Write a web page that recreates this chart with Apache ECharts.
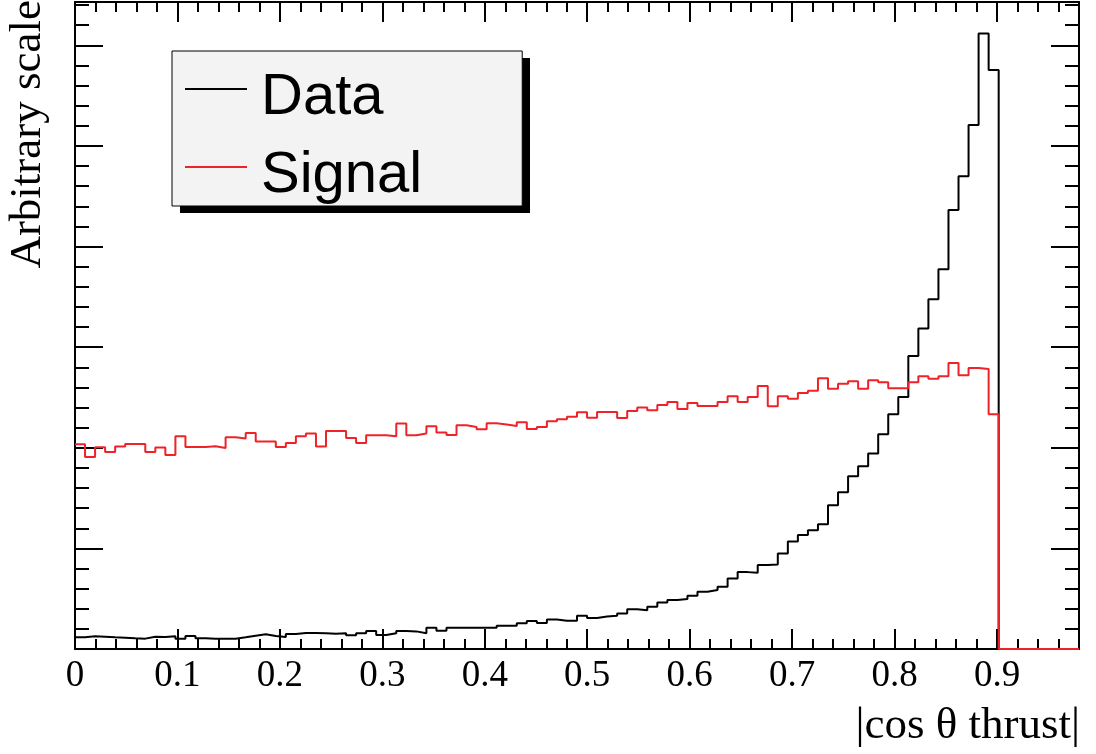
<!DOCTYPE html>
<html>
<head>
<meta charset="utf-8">
<title>cos theta thrust</title>
<script src="https://cdn.jsdelivr.net/npm/echarts@6/dist/echarts.min.js"></script>
<style>
html,body{margin:0;padding:0;background:#fff;}
#main{width:1096px;height:754px;}
</style>
</head>
<body>
<div id="main"></div>
<script>
// histogram: 100 bins of 0.0098 from 0 to 0.98, filled up to bin 91
var binWidth = 0.0098;
var nBins = 100;
var seriesNames = ['Data', 'Signal'];

var dataCounts = [
	0.116, 0.126, 0.122, 0.116, 0.112, 0.106, 0.103, 0.122, 0.119, 0.126,
	0.103, 0.129, 0.106, 0.103, 0.103, 0.103, 0.116, 0.132, 0.146, 0.129,
	0.119, 0.149, 0.159, 0.159, 0.156, 0.152, 0.156, 0.136, 0.156, 0.179,
	0.139, 0.156, 0.179, 0.175, 0.156, 0.212, 0.182, 0.212, 0.212, 0.212,
	0.212, 0.212, 0.232, 0.232, 0.255, 0.278, 0.258, 0.294, 0.281, 0.281,
	0.331, 0.308, 0.324, 0.331, 0.354, 0.394, 0.384, 0.420, 0.463, 0.486,
	0.496, 0.529, 0.569, 0.586, 0.619, 0.701, 0.764, 0.758, 0.834, 0.840,
	0.950, 1.069, 1.132, 1.181, 1.241, 1.429, 1.558, 1.717, 1.816, 1.942,
	2.134, 2.332, 2.504, 2.913, 3.186, 3.477, 3.775, 4.364, 4.698, 5.208,
	6.117, 5.754
];

var signalCounts = [
	2.035, 1.909, 2.005, 1.959, 2.012, 2.038, 2.038, 1.959, 2.002, 1.929,
	2.114, 2.008, 2.008, 2.015, 1.998, 2.104, 2.091, 2.147, 2.061, 2.061,
	2.008, 2.048, 2.114, 2.141, 2.012, 2.167, 2.167, 2.098, 2.048, 2.124,
	2.124, 2.114, 2.240, 2.124, 2.141, 2.213, 2.151, 2.127, 2.223, 2.207,
	2.184, 2.243, 2.230, 2.217, 2.253, 2.187, 2.207, 2.263, 2.283, 2.309,
	2.352, 2.299, 2.356, 2.356, 2.296, 2.366, 2.399, 2.372, 2.425, 2.455,
	2.385, 2.445, 2.415, 2.415, 2.455, 2.511, 2.455, 2.504, 2.614, 2.412,
	2.511, 2.488, 2.544, 2.567, 2.690, 2.587, 2.637, 2.660, 2.587, 2.670,
	2.650, 2.591, 2.591, 2.650, 2.710, 2.687, 2.710, 2.842, 2.720, 2.792,
	2.782, 2.333
];

// bin contents -> step points on the bin edges
function toSteps(counts) {
	var pts = [];
	for (var i = 0; i < nBins; i++) {
		var v = i < counts.length ? counts[i] : 0;
		pts.push([+(i * binWidth).toFixed(4), v]);
	}
	pts.push([+(nBins * binWidth).toFixed(4), 0]);
	return pts;
}

function init() {
	var chart = echarts.init(document.getElementById('main'), null, {renderer: 'canvas'});

	var serif = '"Liberation Serif", "Times New Roman", serif';
	var frameLine = {show: true, onZero: false, lineStyle: {color: '#000', width: 2}};

	var xCommon = {
		type: 'value',
		min: 0,
		max: 0.98,
		interval: 0.1,
		axisLine: frameLine,
		axisTick: {show: true, inside: true, length: 20, lineStyle: {color: '#000', width: 2}},
		minorTick: {show: true, splitNumber: 5, length: 10, lineStyle: {color: '#000', width: 2}},
		splitLine: {show: false}
	};
	var yCommon = {
		type: 'value',
		min: 0,
		max: 6.43,
		interval: 1,
		axisLine: frameLine,
		axisTick: {show: true, inside: true, length: 28, lineStyle: {color: '#000', width: 2}},
		minorTick: {show: true, splitNumber: 5, length: 14, lineStyle: {color: '#000', width: 2}},
		axisLabel: {show: false},
		splitLine: {show: false}
	};

	var option = {
		animation: false,
		backgroundColor: '#fff',
		grid: {left: 75, right: 17, top: 2, bottom: 105, containLabel: false},
		xAxis: [
			echarts.util.merge({
				position: 'bottom',
				axisLabel: {
					show: true, color: '#000', fontFamily: serif, fontSize: 37, margin: 9,
					showMaxLabel: false
				}
			}, xCommon, true),
			echarts.util.merge({position: 'top', axisLabel: {show: false}}, xCommon, true)
		],
		yAxis: [
			echarts.util.merge({position: 'left'}, yCommon, true),
			echarts.util.merge({position: 'right'}, yCommon, true)
		],
		legend: {
			data: seriesNames,
			orient: 'vertical',
			left: 172,
			top: 51,
			z: 5,
			padding: [18, 100, 1, 13],
			itemGap: 20,
			itemWidth: 71,
			itemHeight: 20,
			// thin bar in the upper part of the icon box, space kept on its right
			icon: 'path://M0,0H62V2H0ZM71,20L71,20',
			selectedMode: false,
			backgroundColor: '#f2f3f2',
			borderColor: '#000',
			borderWidth: 1,
			borderRadius: 0,
			textStyle: {
				color: '#000',
				fontFamily: '"Liberation Sans", Arial, Helvetica, sans-serif',
				fontSize: 58
			}
		},
		graphic: [
			{
				// legend drop shadow
				type: 'rect',
				z: 1,
				shape: {x: 180, y: 58, width: 350, height: 155},
				style: {fill: '#000'}
			},
			{
				type: 'text',
				x: 1080,
				y: 726,
				style: {
					text: '|cos \u03b8 thrust|',
					font: '45px ' + serif,
					fill: '#000',
					textAlign: 'right',
					textVerticalAlign: 'middle'
				}
			},
			{
				type: 'text',
				x: 28,
				y: 0,
				rotation: Math.PI / 2,
				style: {
					text: 'Arbitrary scale',
					font: '45px ' + serif,
					fill: '#000',
					textAlign: 'right',
					textVerticalAlign: 'middle'
				}
			}
		],
		series: [
			{
				name: seriesNames[0],
				type: 'line',
				step: 'end',
				symbol: 'none',
				clip: false,
				xAxisIndex: 0,
				yAxisIndex: 0,
				lineStyle: {color: '#000', width: 2},
				itemStyle: {color: '#000'},
				data: toSteps(dataCounts)
			},
			{
				name: seriesNames[1],
				type: 'line',
				step: 'end',
				symbol: 'none',
				clip: false,
				xAxisIndex: 0,
				yAxisIndex: 0,
				lineStyle: {color: '#ee2227', width: 2},
				itemStyle: {color: '#ee2227'},
				data: toSteps(signalCounts)
			}
		]
	};
	chart.setOption(option);
}
init();
</script>
</body>
</html>
